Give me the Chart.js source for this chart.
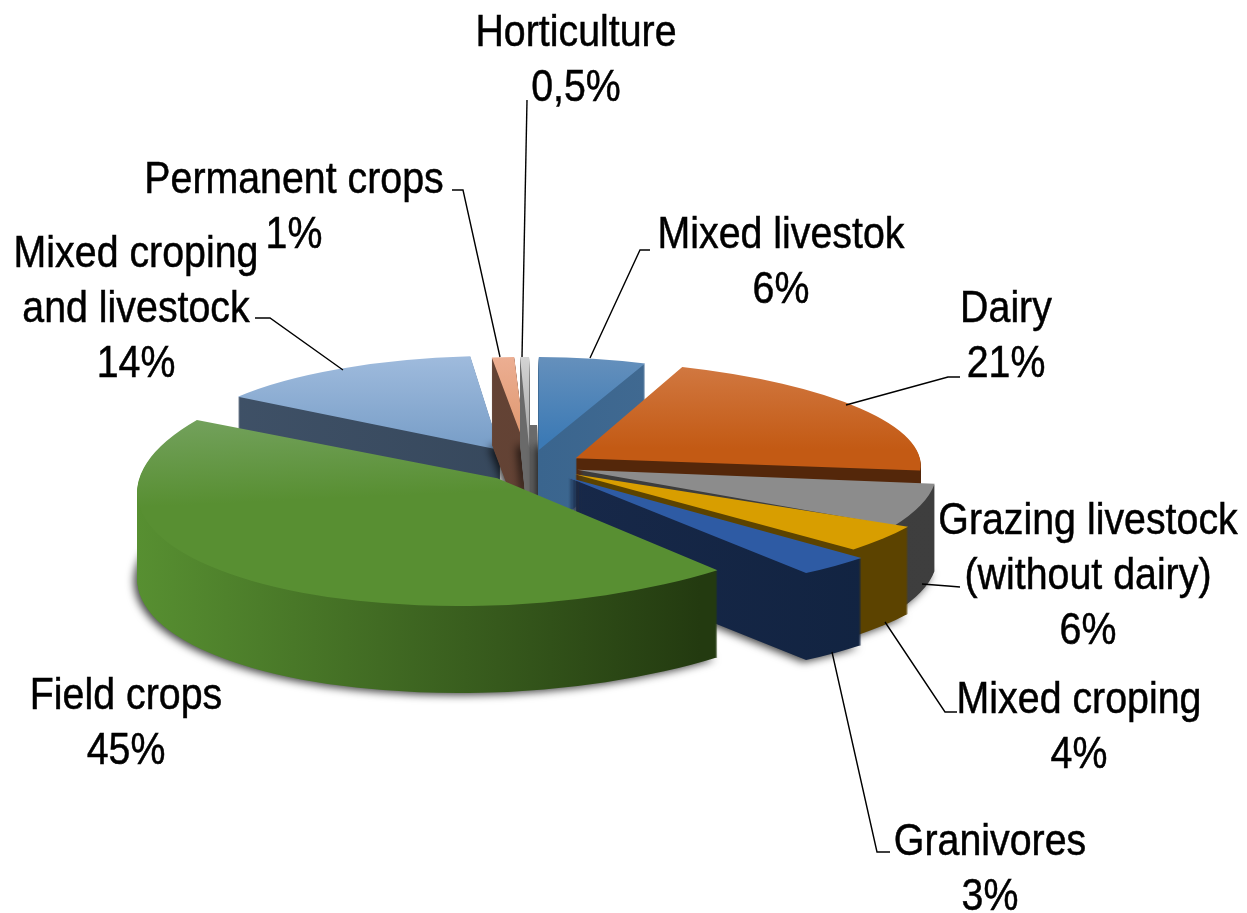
<!DOCTYPE html>
<html><head><meta charset="utf-8">
<style>html,body{margin:0;padding:0;background:#fff}canvas{display:block}</style>
<script src="https://cdn.jsdelivr.net/npm/chart.js@4"></script>
</head><body>
<canvas id="c" width="1247" height="913" style="width:1247px;height:913px"></canvas>
<script>
// ---- data ----
const categories = ["Mixed livestok","Dairy","Grazing livestock","Mixed croping","Granivores","Field crops","Mixed croping and livestock","Permanent crops","Horticulture"];
const values = [6,21,6,4,3,45,14,1,0.5];
const labelLines = [
  ["Mixed livestok","6%"],["Dairy","21%"],["Grazing livestock","(without dairy)","6%"],
  ["Mixed croping","4%"],["Granivores","3%"],["Field crops","45%"],
  ["Mixed croping","and livestock","14%"],["Permanent crops","1%"],["Horticulture","0,5%"]
];
// ---- styles ----
const explode = [57,54,48,51,50,46,65,70,70];
const semiX   = [290,345,360,378,398,360,318,360,290];
const semiY   = [93,98,118,111,119,127,94,90,90];
const twistDeg = [0,-3.5,0,0,0,-1,0,0,0];
const shearY  = [0,0.02,0,0,0,-0.039,0,0,0];
const faceStops = [
  ["#6590bc","#3c7ab5"],["#d27a44","#c35a14"],["#a8a8a8","#8c8c8c"],["#eab024","#d89e00"],
  ["#4369ae","#2e5ba4"],["#74a25e","#588f32"],["#9fbbdd","#7ba0c9"],["#ecae92","#df9870"],["#d4d4d4","#a8a8a8"]
];
const wallStops = [
  ["#2a5a86","#4a7096"],["#54270a","#54270a"],["#3a3a3a","#3e3e3e"],["#5c4300","#5c4300"],
  ["#1e2e52","#10223f"],["#578f31","#233a10"],["#405268","#2e3f52"],["#6b4a3c","#5a3a2c"],["#6a6a6a","#6a6a6a"]
];
const drawOrder = [6,7,8,0,1,2,3,4,5];
const pieCentre = [530,465];
const wallDepth = 87;
const hortBackWall = { slice: 8, shiftX: 8, from: 68, to: 140 };
const labelCentres = [[781,236],[1006,310],[1088,522],[1079,701],[990,843],[126,697],[136,255],[294,181],[576,34]];
const labelLineGap = 55;
const leaders = [
  [[650,250],[640,250],[590,358]],
  [[960,377],[948,377],[846,405]],
  [[960,587],[948,586],[922,584]],
  [[957,712],[945,712],[885,622]],
  [[890,852],[877,852],[832,652]],
  null,
  [[255,318],[270,318],[343,370]],
  [[452,190],[463,190],[500,357]],
  [[527,100],[522,357]]
];

const sliceRenderer = {
  id: 'sliceRenderer',
  beforeDatasetsDraw(chart) {
    const ctx = chart.ctx, arcs = chart.getDatasetMeta(0).data;
    const paint = (arc, i, fill, dy, shadow, dx = 0) => {
      const R = arc.outerRadius;
      const mid = (arc.startAngle + arc.endAngle) / 2;
      const base = arc.options;
      ctx.save();
      if (shadow) { ctx.shadowColor = 'rgba(0,0,0,0.75)'; ctx.shadowBlur = 9; ctx.shadowOffsetX = -3; ctx.shadowOffsetY = 2; }
      ctx.translate(pieCentre[0] + dx, pieCentre[1] + dy);
      ctx.transform(1, shearY[i], 0, 1, 0, 0);
      ctx.scale(semiX[i] / R, semiY[i] / R);
      ctx.translate(Math.cos(mid) * explode[i], Math.sin(mid) * explode[i]);
      ctx.rotate(twistDeg[i] * Math.PI / 180);
      ctx.translate(-arc.x, -arc.y);
      arc.options = Object.assign({}, base, { backgroundColor: fill(arc, R) });
      arc.draw(ctx);
      arc.options = base;
      ctx.restore();
    };
    const wallFill = i => (arc, R) => {
      const g = ctx.createLinearGradient(arc.x - R, 0, arc.x + (i === 5 ? 0.55 : 1) * R, 0);
      g.addColorStop(0, wallStops[i][0]); g.addColorStop(1, wallStops[i][1]);
      return g;
    };
    const faceFill = i => (arc, R) => {
      const g = i === 5
        ? ctx.createLinearGradient(0, arc.y - 0.6 * R, 0, arc.y + 0.1 * R)
        : ctx.createLinearGradient(0, arc.y - R, 0, arc.y - 0.1 * R);
      g.addColorStop(0, faceStops[i][0]); g.addColorStop(1, faceStops[i][1]);
      return g;
    };
    for (const i of drawOrder) {
      const arc = arcs[i];
      if (i === hortBackWall.slice) {
        for (let d = hortBackWall.to; d >= hortBackWall.from; d--) paint(arc, i, wallFill(i), d, false, hortBackWall.shiftX);
      }
      for (let d = wallDepth; d >= 1; d--) paint(arc, i, wallFill(i), d, d === wallDepth);
      paint(arc, i, faceFill(i), 0, false);
    }
    return false;
  },
  afterDraw(chart) {
    const ctx = chart.ctx;
    ctx.save();
    ctx.strokeStyle = '#000'; ctx.lineWidth = 1.4;
    leaders.forEach(pts => {
      if (!pts) return;
      ctx.beginPath();
      pts.forEach((p, k) => k ? ctx.lineTo(p[0], p[1]) : ctx.moveTo(p[0], p[1]));
      ctx.stroke();
    });
    ctx.fillStyle = '#000';
    ctx.lineWidth = 0.5;
    ctx.font = '44.7px "Liberation Sans", Arial, sans-serif';
    ctx.textAlign = 'center'; ctx.textBaseline = 'middle';
    labelLines.forEach((lines, i) => lines.forEach((t, k) => {
      ctx.save();
      ctx.translate(labelCentres[i][0], labelCentres[i][1] + k * labelLineGap);
      ctx.scale(0.88, 1);
      ctx.fillText(t, 0, 0);
      ctx.strokeText(t, 0, 0);
      ctx.restore();
    }));
    ctx.restore();
  }
};

new Chart(document.getElementById('c'), {
  type: 'pie',
  data: { labels: categories, datasets: [{ data: values, backgroundColor: faceStops.map(s => s[1]), borderWidth: 0 }] },
  options: {
    responsive: false, animation: false, radius: 350,
    plugins: { legend: { display: false }, tooltip: { enabled: false } }
  },
  plugins: [sliceRenderer]
});
</script>
</body></html>
